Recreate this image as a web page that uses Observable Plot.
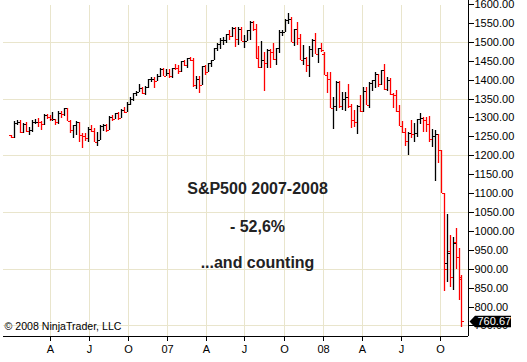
<!DOCTYPE html>
<html><head><meta charset="utf-8">
<script src="https://cdn.jsdelivr.net/npm/d3@7"></script>
<script src="https://cdn.jsdelivr.net/npm/@observablehq/plot@0.6"></script>
<style>
html,body{margin:0;padding:0;background:#fff;}
#chart svg{display:block;}
</style></head><body><div id="chart"></div>
<script>
// Weekly S&P 500 bars (week ending Friday), first week 2005-12-30, last week 2008-11-21
const firstWeek = "2005-12-30";
const lastWeek = "2008-11-21";
const opens = [1254,
 1248,1285,1287,1261,1283,1264,1266,1288,1289,1287,1282,1307,1302,1295,1296,1289,1311,1310,1325,1291,1267,1280,1288,1253,1251,1245,
 1270,1265,1236,1240,1278,1280,1267,1302,1296,1311,1299,1321,1315,1336,1349,1366,1368,1377,1364,1380,1401,1401,1397,1409,1427,1410,
 1418,1410,1431,1430,1422,1449,1438,1456,1451,1387,1402,1386,1437,1421,1444,1453,1484,1494,1505,1505,1522,1515,1536,1507,1533,1503,
 1503,1530,1552,1534,1458,1433,1453,1445,1479,1474,1454,1484,1525,1527,1557,1561,1500,1535,1509,1453,1458,1440,1481,1504,1468,1484,
 1468,1411,1401,1325,1331,1395,1331,1349,1353,1331,1294,1288,1330,1316,1370,1333,1390,1398,1414,1389,1425,1375,1400,1361,1360,1318,
 1278,1262,1239,1260,1257,1260,1296,1298,1292,1283,1242,1252,1255,1213,1099,914,947,878,971,931,878];
const highs = [1254,
 1291,1294,1294,1286,1287,1275,1294,1295,1298,1290,1310,1310,1307,1314,1296,1318,1316,1326,1326,1294,1281,1290,1289,1259,1258,1275,
 1281,1273,1261,1280,1283,1282,1303,1306,1312,1314,1322,1329,1340,1354,1366,1369,1389,1381,1384,1403,1407,1406,1415,1431,1431,1427,
 1429,1431,1441,1440,1449,1453,1457,1461,1456,1410,1409,1437,1438,1445,1453,1484,1498,1510,1514,1522,1530,1540,1540,1538,1540,1517,
 1532,1556,1555,1546,1488,1503,1474,1481,1481,1497,1485,1530,1532,1561,1576,1565,1535,1552,1520,1492,1460,1488,1508,1523,1485,1498,
 1472,1420,1420,1355,1396,1396,1368,1367,1388,1335,1321,1334,1359,1381,1381,1395,1398,1421,1416,1426,1441,1406,1404,1366,1373,1334,
 1290,1273,1262,1292,1285,1297,1313,1300,1300,1303,1269,1266,1255,1215,1099,1044,989,984,1007,955,883];
const lows = [1246,
 1245,1280,1260,1258,1262,1253,1261,1283,1275,1268,1279,1296,1291,1291,1280,1282,1299,1303,1290,1259,1245,1253,1235,1219,1238,1234,
 1262,1235,1224,1240,1265,1261,1266,1290,1295,1294,1298,1311,1314,1332,1343,1356,1367,1361,1360,1379,1393,1377,1396,1406,1409,1410,
 1404,1405,1426,1416,1420,1437,1431,1448,1381,1374,1364,1386,1412,1419,1433,1452,1476,1482,1491,1498,1505,1512,1487,1492,1502,1484,
 1503,1505,1529,1458,1432,1430,1370,1430,1432,1453,1439,1471,1515,1527,1546,1500,1490,1492,1453,1439,1420,1406,1460,1467,1445,1474,
 1411,1364,1325,1270,1317,1325,1321,1316,1326,1272,1274,1256,1315,1315,1332,1324,1370,1379,1381,1386,1373,1370,1360,1325,1315,1278,
 1260,1225,1200,1247,1235,1248,1282,1262,1262,1236,1222,1133,1180,1099,840,866,852,845,899,818,746];
const closes = [1248,
 1285,1287,1261,1283,1264,1266,1288,1289,1287,1282,1307,1302,1295,1296,1289,1311,1310,1325,1291,1267,1280,1288,1253,1251,1245,1270,
 1265,1236,1240,1278,1280,1267,1302,1296,1311,1299,1321,1315,1336,1349,1366,1368,1377,1364,1380,1401,1401,1397,1409,1427,1410,1418,
 1410,1431,1430,1422,1449,1438,1456,1451,1387,1402,1386,1437,1421,1444,1453,1484,1494,1505,1505,1522,1515,1536,1507,1533,1503,1503,
 1530,1552,1534,1458,1433,1453,1445,1479,1474,1454,1484,1525,1527,1557,1561,1500,1535,1509,1453,1458,1440,1481,1504,1468,1484,1478,
 1411,1401,1325,1331,1395,1331,1349,1353,1331,1294,1288,1330,1316,1370,1333,1390,1398,1414,1389,1425,1375,1400,1361,1360,1318,1278,
 1262,1239,1260,1257,1260,1296,1298,1292,1283,1242,1252,1255,1213,1099,899,942,877,969,930,874,760.67];

const quarterTicks = ["2006-04-01","2006-07-01","2006-10-01","2007-01-01","2007-04-01","2007-07-01","2007-10-01",
                      "2008-01-01","2008-04-01","2008-07-01","2008-10-01"];
const quarterLabels = ["A","J","O","07","A","J","O","08","A","J","O"];
const priceTicks = [750,800,850,900,950,1000,1050,1100,1150,1200,1250,1300,1350,1400,1450,1500,1550,1600];
const gridPrices = [750,900,1050,1200,1350,1500];
const titleLines = ["S&P500 2007-2008", "- 52,6%", "...and counting"];
const copyright = "\u00A9 2008 NinjaTrader, LLC";

const weeks = d3.utcFriday.range(new Date(firstWeek), d3.utcDay.offset(new Date(lastWeek), 1));
const bars = weeks.map((date, i) => ({
  date, open: opens[i], high: highs[i], low: lows[i], close: closes[i],
  color: closes[i] >= opens[i] ? "#000000" : "#ff0000"
}));
const qDates = quarterTicks.map(s => new Date(s));
const qLabel = new Map(qDates.map((d, i) => [+d, quarterLabels[i]]));
const lastBar = bars[bars.length - 1];

// OHLC bar pieces: 1px vertical body, 2px open tick left, 2px close tick right
const openTick = {draw(ctx) { ctx.moveTo(-2.5, 0); ctx.lineTo(-0.5, 0); }};
const closeTick = {draw(ctx) { ctx.moveTo(0.5, 0); ctx.lineTo(2.5, 0); }};
const markerShape = {draw(ctx) {
  ctx.moveTo(1, 0); ctx.lineTo(6.5, -5.8); ctx.lineTo(42.5, -5.8);
  ctx.lineTo(42.5, 5.8); ctx.lineTo(6.5, 5.8); ctx.closePath();
}};

const xDomain = [new Date(Date.UTC(2005, 11, 4, 22)), new Date(Date.UTC(2008, 11, 6, 6))];
const yDomain = [722.2, 1610.6];
const gridColor = "#e9e5cc";
const textColor = "#222222";

const chart = Plot.plot({
  width: 527, height: 362,
  marginTop: 0, marginLeft: 0, marginRight: 59, marginBottom: 26,
  style: {fontFamily: "'Liberation Sans', Arial, sans-serif", fontSize: "11px", background: "#ffffff", color: "#000000"},
  x: {type: "utc", domain: xDomain, round: true},
  y: {domain: yDomain, round: true},
  marks: [
    Plot.ruleX(qDates, {stroke: gridColor, strokeWidth: 1, insetTop: 5}),
    Plot.ruleY(gridPrices, {stroke: gridColor, strokeWidth: 1, insetLeft: 3}),
    Plot.ruleX(bars, {x: "date", y1: "low", y2: "high", stroke: "color", strokeWidth: 1.3}),
    Plot.dot(bars, {x: "date", y: "open", symbol: openTick, fill: "none", stroke: "color", strokeWidth: 1.2, r: 2}),
    Plot.dot(bars, {x: "date", y: "close", symbol: closeTick, fill: "none", stroke: "color", strokeWidth: 1.2, r: 2}),
    Plot.ruleY([yDomain[0]], {stroke: "#000", insetLeft: 3}),
    Plot.ruleX([xDomain[1]], {stroke: "#000"}),
    Plot.axisY(priceTicks, {anchor: "right", tickSize: 5, tickPadding: 1, tickFormat: d => d.toFixed(2), fontSize: 11}),
    Plot.axisX(qDates, {anchor: "bottom", tickSize: 5, tickPadding: 4, tickFormat: d => qLabel.get(+d), fontSize: 11}),
    Plot.text([titleLines[0]], {text: d => d, frameAnchor: "top-left", dx: 257, dy: 182, textAnchor: "middle", fontSize: 16, fontWeight: "bold", fill: textColor}),
    Plot.text([titleLines[1]], {text: d => d, frameAnchor: "top-left", dx: 257, dy: 220, textAnchor: "middle", fontSize: 16, fontWeight: "bold", fill: textColor}),
    Plot.text([titleLines[2]], {text: d => d, frameAnchor: "top-left", dx: 257, dy: 256, textAnchor: "middle", fontSize: 16, fontWeight: "bold", fill: textColor}),
    Plot.text([copyright], {text: d => d, frameAnchor: "bottom-left", dx: 4, dy: -6.5, textAnchor: "start", fontSize: 10.6, fill: "#000"}),
    Plot.dot([lastBar], {y: "close", frameAnchor: "right", symbol: markerShape, fill: "#000", stroke: "none", r: 5}),
    Plot.text([lastBar], {y: "close", frameAnchor: "right", dx: 9, text: d => d.close.toFixed(2), textAnchor: "start", fill: "#ffffff", fontSize: 11})
  ]
});
document.getElementById("chart").appendChild(chart);
</script>
</body></html>
